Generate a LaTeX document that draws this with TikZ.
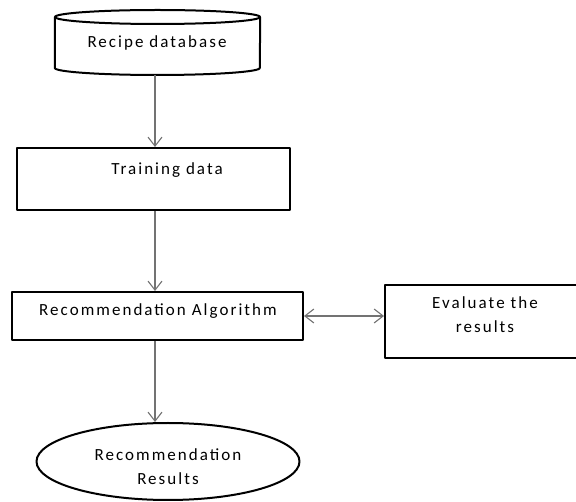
\documentclass[tikz,border=0pt]{standalone}
\usepackage{fontspec}
\setmainfont{Carlito}[LetterSpace=12]
\usetikzlibrary{shapes.geometric,arrows.meta}
\begin{document}
\begin{tikzpicture}[x=1pt,y=-1pt,>={Straight Barb[length=9pt,width=14pt]},line join=round,font=\fontsize{17}{20}\selectfont,
	box/.style={draw,line width=2pt,inner sep=0pt},
	link/.style={draw=black!55,line width=1.1pt}]
	\useasboundingbox (0,0) rectangle (576,502);
	\coordinate (axis) at (155,0);
	%Recipe database
	\node (db) [inner sep=0pt,minimum width=205,minimum height=65] at (157.5,42.5) {};
	\draw[line width=2pt] (157.5,17) ellipse [x radius=102.5,y radius=7];
	\draw[line width=2pt] (db.west |- 0,17) -- (db.west |- 0,68) arc[start angle=180,end angle=0,x radius=102.5,y radius=7] -- (db.east |- 0,17);
	\node at (157,43) {Recipe database};
	%Training data
	\node (train) [box,minimum width=273,minimum height=62] at (153.5,179) {};
	\node at (167,170) {Training data};
	%Recommendation Algorithm
	\node (algo) [box,minimum width=291,minimum height=48] at (157.5,316) {};
	\node at (158,311) {Recommendation Algorithm};
	%Evaluate the results
	\node (eval) [box,minimum width=210,minimum height=73] at (490,321.5) {};
	\node at (485,303) {Evaluate the};
	\node at (485,327) {results};
	%Recommendation Results
	\node (res) [ellipse,box,minimum width=263,minimum height=77] at (168,461.5) {};
	\node at (168,455) {Recommendation};
	\node at (168,479) {Results};
	%Arrows
	\draw[link,->] (db.south -| axis) -- (train.north -| axis);
	\draw[link,->] (train.south -| axis) -- (algo.north -| axis);
	\draw[link,->] (algo.south -| axis) -- (res.north -| axis);
	\draw[link,<->] (algo.east) -- (algo.east -| eval.west);
\end{tikzpicture}
\end{document}
